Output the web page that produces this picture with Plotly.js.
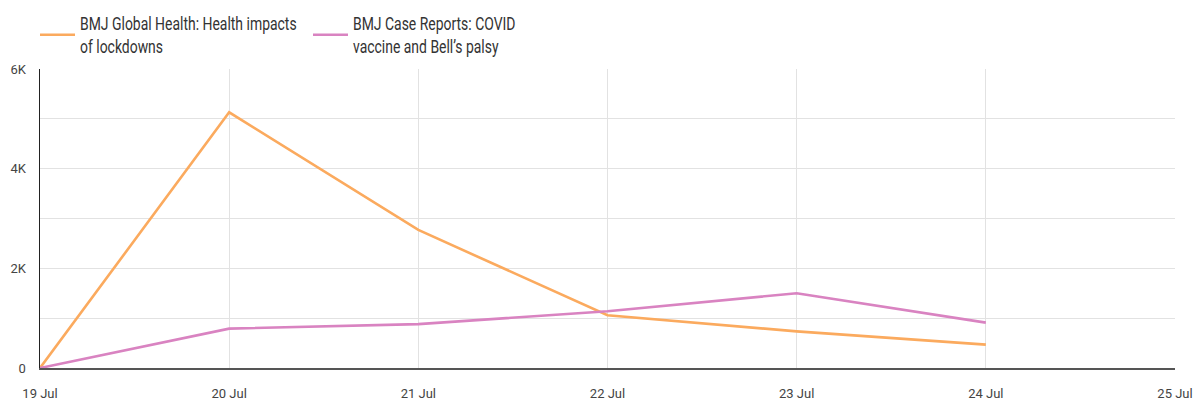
<!DOCTYPE html>
<html>
<head>
<meta charset="utf-8">
<script src="https://cdn.plot.ly/plotly-3.0.1.min.js"></script>
<style>
html,body{margin:0;padding:0;background:#fff;}
#chart{width:1203px;height:401px;}
#chart .legendtext{transform-box:fill-box;transform-origin:0 0;transform:scaleX(0.775);}
</style>
</head>
<body>
<div id="chart"></div>
<script>
const dates = ['2021-07-19', '2021-07-20', '2021-07-21', '2021-07-22', '2021-07-23', '2021-07-24'];
const lockdownsName = 'BMJ Global Health: Health impacts<br>of lockdowns';
const lockdownsValues = [0, 5130, 2770, 1060, 735, 470];
const bellsName = 'BMJ Case Reports: COVID<br>vaccine and Bell\u2019s palsy';
const bellsValues = [0, 790, 880, 1140, 1500, 910];
const yTickVals = [0, 2000, 4000, 6000];
const yTickText = ['0', '2K', '4K', '6K'];

const traces = [
  {x: dates, y: lockdownsValues, name: lockdownsName, type: 'scatter', mode: 'lines',
   line: {color: '#fbaa5e', width: 2.6}},
  {x: dates, y: bellsValues, name: bellsName, type: 'scatter', mode: 'lines',
   line: {color: '#d983c1', width: 2.6}}
];

const layout = {
  width: 1203, height: 401,
  margin: {l: 40, r: 28, t: 69, b: 33, pad: 0, autoexpand: false},
  paper_bgcolor: '#fff', plot_bgcolor: '#fff',
  font: {family: 'Roboto, sans-serif', size: 13, color: '#444'},
  showlegend: true,
  hovermode: false,
  legend: {
    orientation: 'h', x: -0.0044, xanchor: 'left', y: 1.2147, yanchor: 'top',
    font: {family: 'Roboto, sans-serif', size: 18, color: '#333'},
    valign: 'middle', traceorder: 'normal', itemwidth: 35,
    entrywidth: 223, entrywidthmode: 'pixels'
  },
  xaxis: {
    type: 'date',
    range: ['2021-07-19', '2021-07-25'],
    dtick: 86400000, tick0: '2021-07-19',
    tickformat: '%d %b',
    showgrid: true, gridcolor: '#e2e2e2', gridwidth: 1,
    showline: true, linecolor: '#555', linewidth: 2,
    zeroline: false, ticks: '', ticklabelstandoff: 12,
    tickfont: {family: 'Roboto, sans-serif', size: 13, color: '#444'},
    fixedrange: true
  },
  yaxis: {
    range: [0, 6000],
    tickvals: yTickVals, ticktext: yTickText,
    showgrid: true, gridcolor: '#e2e2e2', gridwidth: 1,
    minor: {dtick: 1000, tick0: 0, showgrid: true, gridcolor: '#e2e2e2', gridwidth: 1},
    showline: true, linecolor: '#222', linewidth: 1.5,
    zeroline: false, ticks: '', ticklabelstandoff: 10,
    tickfont: {family: 'Roboto, sans-serif', size: 13, color: '#444'},
    fixedrange: true
  }
};

Plotly.newPlot('chart', traces, layout, {displayModeBar: false, staticPlot: true});
</script>
</body>
</html>
